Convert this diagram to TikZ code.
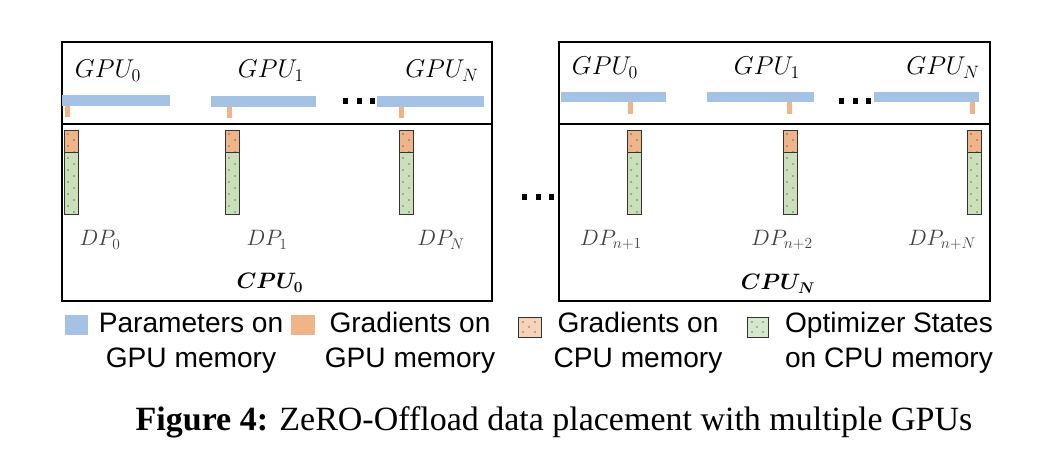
\documentclass[tikz,border=0pt]{standalone}
\usepackage{amsmath}
\usepackage[no-math]{fontspec}
\setmainfont{Liberation Serif}
\newfontfamily\legendfont{Liberation Sans}
\definecolor{parblue}{HTML}{A4C2E4}
\definecolor{gradorange}{HTML}{F0B489}
\definecolor{optgreen}{HTML}{C9E0B8}
\definecolor{dpgray}{HTML}{404040}
\definecolor{edgegray}{HTML}{333333}

\begin{document}
\begin{tikzpicture}[x=0.03cm, y=-0.03cm,
  gpulabel/.style={font=\huge, scale=1.06, transform shape},
  dplabel/.style={font=\LARGE, scale=1.1, transform shape, text=dpgray},
  cpulabel/.style={font=\LARGE, scale=1.1, transform shape},
  legendtext/.style={font=\legendfont\fontsize{24}{30}\selectfont, align=center, inner sep=0pt},
  membox/.style={draw, line width=1pt},
  divider/.style={line width=1.6pt},
  colborder/.style={draw=edgegray, line width=0.8pt}]
\useasboundingbox (0,0) rectangle (1038,456);

% the two CPU boxes
\draw[membox] (62,42) rectangle (492,301);
\draw[divider] (62,124) -- (492,124);
\draw[membox] (559,42) rectangle (990,301);
\draw[divider] (559,124) -- (990,124);

% GPU labels
\node[gpulabel] (gpuL0) at (108,71) {$GPU_0$};
\node[gpulabel] (gpuL1) at (271,71) {$GPU_1$};
\node[gpulabel] (gpuLN) at (442,71) {$GPU_N$};
\node[gpulabel] (gpuR0) at (605,68) {$GPU_0$};
\node[gpulabel] (gpuR1) at (767,68) {$GPU_1$};
\node[gpulabel] (gpuRN) at (943,68) {$GPU_N$};

% parameters on GPU memory
\fill[parblue] (62,95) rectangle (170,106);
\fill[parblue] (211,96) rectangle (316,107);
\fill[parblue] (377,96) rectangle (484,107);
\fill[parblue] (561,92) rectangle (666,102);
\fill[parblue] (707,92) rectangle (814,102);
\fill[parblue] (874,92) rectangle (979,102);

% gradients on GPU memory
\fill[gradorange] (65,106) rectangle (70,117);
\fill[gradorange] (227,107) rectangle (232,118);
\fill[gradorange] (399,107) rectangle (404,118);
\fill[gradorange] (628,102) rectangle (633,114);
\fill[gradorange] (787,102) rectangle (792,114);
\fill[gradorange] (970,102) rectangle (975,114);

% ellipses
\foreach \dx in {0,13.5,27} {
  \fill (343+\dx,98) rectangle ++(5,6);
  \fill (839+\dx,98) rectangle ++(5,6);
  \fill (522+\dx,194) rectangle ++(5,6);
}

% gradients and optimizer states on CPU memory
\foreach \cx in {64,225,399,627,783,967} {
  \fill[gradorange] (\cx,130) rectangle (\cx+14,152);
  \fill[optgreen] (\cx,152) rectangle (\cx+14,214);
  \foreach \dy in {0,...,13}
    \fill ({\cx+4+6*mod(\dy,2)},{134+6*\dy}) circle[radius=0.55pt];
  \draw[colborder] (\cx,130) rectangle (\cx+14,214);
  \draw[colborder] (\cx,152) -- (\cx+14,152);
}

% DP labels
\node[dplabel] (dpL0) at (100,240) {$DP_0$};
\node[dplabel] (dpL1) at (267,240) {$DP_1$};
\node[dplabel] (dpLN) at (441,240) {$DP_N$};
\node[dplabel] (dpR1) at (611,240) {$DP_{n+1}$};
\node[dplabel] (dpR2) at (782,240) {$DP_{n+2}$};
\node[dplabel] (dpRN) at (942,240) {$DP_{n+N}$};

% CPU labels
\node[cpulabel] (cpu0) at (270,283) {$\boldsymbol{CPU_0}$};
\node[cpulabel] (cpuN) at (778,284) {$\boldsymbol{CPU_N}$};

% legend
\fill[parblue] (65,315) rectangle (88,335);
\node[legendtext] (legpar) at (191,343) {Parameters on\\GPU memory};
\fill[gradorange] (291,315) rectangle (315,335);
\node[legendtext] (leggradgpu) at (410,343) {Gradients on\\GPU memory};
\fill[gradorange!60] (518,317) rectangle (541,337);
\foreach \px/\py in {523/322,535/322,529/327,523/332,535/332}
  \fill (\px,\py) circle[radius=0.55pt];
\draw[colborder] (518,317) rectangle (541,337);
\node[legendtext] (leggradcpu) at (638,343) {Gradients on\\CPU memory};
\fill[optgreen!75] (747,317) rectangle (768,337);
\foreach \px/\py in {752/322,763/322,757/327,752/332,763/332}
  \fill (\px,\py) circle[radius=0.55pt];
\draw[colborder] (747,317) rectangle (768,337);
\node[legendtext] (legopt) at (889,343) {Optimizer States\\on CPU memory};

% caption
\node[anchor=base] (caption) at (554,430) {\fontsize{29}{34}\selectfont\textbf{Figure 4:} ZeRO-Offload data placement with multiple GPUs};
\end{tikzpicture}
\end{document}
